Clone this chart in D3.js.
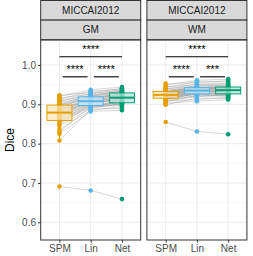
<!DOCTYPE html>
<html>
<head>
<meta charset="utf-8">
<script src="https://cdn.jsdelivr.net/npm/d3@7"></script>
<style>
  body { margin: 0; background: #fff; }
  svg { display: block; font-family: "Liberation Sans", Arial, sans-serif; }
</style>
</head>
<body>
<div id="viz"></div>
<script>
// paired Dice scores, one entry per subject (same order across methods)
const methods = ["SPM", "Lin", "Net"];
const colors = ["#E69F00", "#56B4E9", "#009E73"];
const tissues = ["GM", "WM"];
const dataset = "MICCAI2012";

const gmSPM = [0.691, 0.808, 0.825, 0.830, 0.836, 0.845, 0.850, 0.855, 0.858, 0.860, 0.863, 0.866, 0.869, 0.872, 0.874, 0.876, 0.877, 0.879,
  0.882, 0.884, 0.886, 0.888, 0.890, 0.893, 0.895, 0.897, 0.899, 0.901, 0.904, 0.907, 0.910, 0.913, 0.916, 0.920, 0.923];
const gmLin = [0.681, 0.888, 0.882, 0.894, 0.885, 0.890, 0.898, 0.892, 0.895, 0.900, 0.896, 0.903, 0.899, 0.902, 0.907, 0.904, 0.909, 0.906,
  0.912, 0.908, 0.914, 0.910, 0.913, 0.918, 0.916, 0.921, 0.917, 0.924, 0.920, 0.928, 0.922, 0.933, 0.926, 0.937, 0.930];
const gmNet = [0.659, 0.890, 0.885, 0.897, 0.894, 0.902, 0.899, 0.901, 0.906, 0.903, 0.905, 0.910, 0.908, 0.914, 0.911, 0.913, 0.917, 0.916,
  0.920, 0.918, 0.923, 0.921, 0.927, 0.924, 0.925, 0.930, 0.928, 0.933, 0.931, 0.936, 0.934, 0.939, 0.937, 0.944, 0.941];

const wmSPM = [0.855, 0.899, 0.903, 0.906, 0.909, 0.911, 0.913, 0.914, 0.915, 0.916, 0.917, 0.918, 0.919, 0.920, 0.921, 0.922, 0.923, 0.924,
  0.925, 0.926, 0.927, 0.928, 0.929, 0.930, 0.931, 0.932, 0.933, 0.934, 0.936, 0.938, 0.940, 0.942, 0.945, 0.949, 0.953];
const wmLin = [0.831, 0.916, 0.908, 0.923, 0.912, 0.919, 0.927, 0.921, 0.925, 0.929, 0.926, 0.931, 0.928, 0.930, 0.934, 0.932, 0.936, 0.933,
  0.938, 0.935, 0.940, 0.937, 0.939, 0.942, 0.941, 0.944, 0.942, 0.948, 0.943, 0.952, 0.946, 0.958, 0.950, 0.961, 0.955];
const wmNet = [0.824, 0.915, 0.912, 0.920, 0.918, 0.925, 0.922, 0.924, 0.928, 0.926, 0.927, 0.931, 0.929, 0.934, 0.932, 0.933, 0.936, 0.935,
  0.938, 0.937, 0.940, 0.939, 0.943, 0.941, 0.942, 0.944, 0.944, 0.947, 0.945, 0.951, 0.949, 0.957, 0.954, 0.964, 0.960];

const yTicks = [0.6, 0.7, 0.8, 0.9, 1.0];
const yMinor = [0.65, 0.75, 0.85, 0.95, 1.05];

// significance brackets: [from, to, bracket height]
const comparisons = [["SPM", "Net", 1.021], ["SPM", "Lin", 0.970], ["Lin", "Net", 0.970]];
const gmStars = ["****", "****", "****"];
const wmStars = ["****", "****", "***"];

const series = { GM: [gmSPM, gmLin, gmNet], WM: [wmSPM, wmLin, wmNet] };
const stars = { GM: gmStars, WM: wmStars };

const width = 253, height = 256;
const panelTop = 40, panelBottom = 240;
const panelLefts = [40.7, 146.9], panelW = 100;
const stripH = 19.6;

const svg = d3.select("#viz").append("svg")
  .attr("width", width)
  .attr("height", height);

const y = d3.scaleLinear().domain([0.555, 1.0636]).range([panelBottom, panelTop]);

tissues.forEach((tissue, pi) => {
  const left = panelLefts[pi];
  const x = d3.scalePoint().domain(methods).range([left, left + panelW]).padding(0.6);
  const step = x.step();
  const g = svg.append("g");

  // strips
  [dataset, tissue].forEach((lab, si) => {
    const sy = 0.5 + si * stripH;
    g.append("rect")
      .attr("x", left).attr("y", sy)
      .attr("width", panelW).attr("height", stripH)
      .attr("fill", "#D9D9D9").attr("stroke", "#333").attr("stroke-width", 1);
    g.append("text")
      .attr("x", left + panelW / 2).attr("y", sy + stripH / 2)
      .attr("dy", "0.35em").attr("text-anchor", "middle")
      .attr("font-size", 10).attr("fill", "#1A1A1A")
      .text(lab);
  });

  // grid
  g.selectAll(".minor").data(yMinor).join("line")
    .attr("x1", left).attr("x2", left + panelW)
    .attr("y1", d => y(d)).attr("y2", d => y(d))
    .attr("stroke", "#F2F2F2").attr("stroke-width", 0.6);
  g.selectAll(".major").data(yTicks).join("line")
    .attr("x1", left).attr("x2", left + panelW)
    .attr("y1", d => y(d)).attr("y2", d => y(d))
    .attr("stroke", "#EBEBEB").attr("stroke-width", 1);
  g.selectAll(".vmajor").data(methods).join("line")
    .attr("x1", d => x(d)).attr("x2", d => x(d))
    .attr("y1", panelTop).attr("y2", panelBottom)
    .attr("stroke", "#EBEBEB").attr("stroke-width", 1);

  const vals = series[tissue];
  const n = vals[0].length;

  // paired lines
  const lineGen = d3.line().x((d, i) => x(methods[i])).y(d => y(d));
  g.selectAll(".pair").data(d3.range(n)).join("path")
    .attr("d", s => lineGen(vals.map(v => v[s])))
    .attr("fill", "none").attr("stroke", "#7a7a7a")
    .attr("stroke-opacity", 0.38).attr("stroke-width", 0.8);

  methods.forEach((m, mi) => {
    const v = vals[mi].slice().sort(d3.ascending);
    const q1 = d3.quantile(v, 0.25), med = d3.quantile(v, 0.5), q3 = d3.quantile(v, 0.75);
    const iqr = q3 - q1;
    const lo = d3.min(v.filter(d => d >= q1 - 1.5 * iqr));
    const hi = d3.max(v.filter(d => d <= q3 + 1.5 * iqr));
    const cx = x(m), bw = step * 0.8;
    const col = colors[mi];

    // whisker
    g.append("line")
      .attr("x1", cx).attr("x2", cx)
      .attr("y1", y(lo)).attr("y2", y(hi))
      .attr("stroke", col).attr("stroke-width", 1);

    // points
    g.selectAll(".pt" + mi).data(vals[mi]).join("circle")
      .attr("cx", cx).attr("cy", d => y(d)).attr("r", 2.3)
      .attr("fill", col);

    // box
    g.append("rect")
      .attr("x", cx - bw / 2).attr("y", y(q3))
      .attr("width", bw).attr("height", y(q1) - y(q3))
      .attr("fill", "#fff").attr("fill-opacity", 0.65);
    g.append("rect")
      .attr("x", cx - bw / 2).attr("y", y(q3))
      .attr("width", bw).attr("height", y(q1) - y(q3))
      .attr("fill", col).attr("fill-opacity", 0.2)
      .attr("stroke", col).attr("stroke-width", 1);
    g.append("line")
      .attr("x1", cx - bw / 2).attr("x2", cx + bw / 2)
      .attr("y1", y(med)).attr("y2", y(med))
      .attr("stroke", col).attr("stroke-width", 2);
  });

  // significance brackets
  comparisons.forEach(([a, b, h], ci) => {
    const shorten = ci === 0 ? 0 : step * 0.1;
    const x1 = x(a) + shorten, x2 = x(b) - shorten;
    g.append("line")
      .attr("x1", x1).attr("x2", x2)
      .attr("y1", y(h)).attr("y2", y(h))
      .attr("stroke", "#000").attr("stroke-width", 1.1);
    g.append("text")
      .attr("x", (x1 + x2) / 2).attr("y", y(h) - 4)
      .attr("text-anchor", "middle").attr("font-size", 11)
      .attr("fill", "#000")
      .text(stars[tissue][ci]);
  });

  // panel border
  g.append("rect")
    .attr("x", left).attr("y", panelTop)
    .attr("width", panelW).attr("height", panelBottom - panelTop)
    .attr("fill", "none").attr("stroke", "#333").attr("stroke-width", 1);

  // x axis
  const xa = g.append("g").attr("transform", `translate(0,${panelBottom})`)
    .call(d3.axisBottom(x).tickSize(2.7).tickPadding(2));
  xa.select(".domain").remove();
  xa.selectAll("line").attr("stroke", "#333");
  xa.selectAll("text").attr("font-size", 10).attr("fill", "#4D4D4D")
    .attr("font-family", "Liberation Sans, Arial, sans-serif");

  if (pi === 0) {
    const ya = g.append("g").attr("transform", `translate(${left},0)`)
      .call(d3.axisLeft(y).tickValues(yTicks).tickFormat(d3.format(".1f")).tickSize(2.7).tickPadding(2));
    ya.select(".domain").remove();
    ya.selectAll("line").attr("stroke", "#333");
    ya.selectAll("text").attr("font-size", 10).attr("fill", "#4D4D4D")
      .attr("font-family", "Liberation Sans, Arial, sans-serif");
  }
});

svg.append("text")
  .attr("transform", `translate(10,${(panelTop + panelBottom) / 2}) rotate(-90)`)
  .attr("text-anchor", "middle").attr("dy", "0.35em")
  .attr("font-size", 12).attr("fill", "#000")
  .text("Dice");
</script>
</body>
</html>
